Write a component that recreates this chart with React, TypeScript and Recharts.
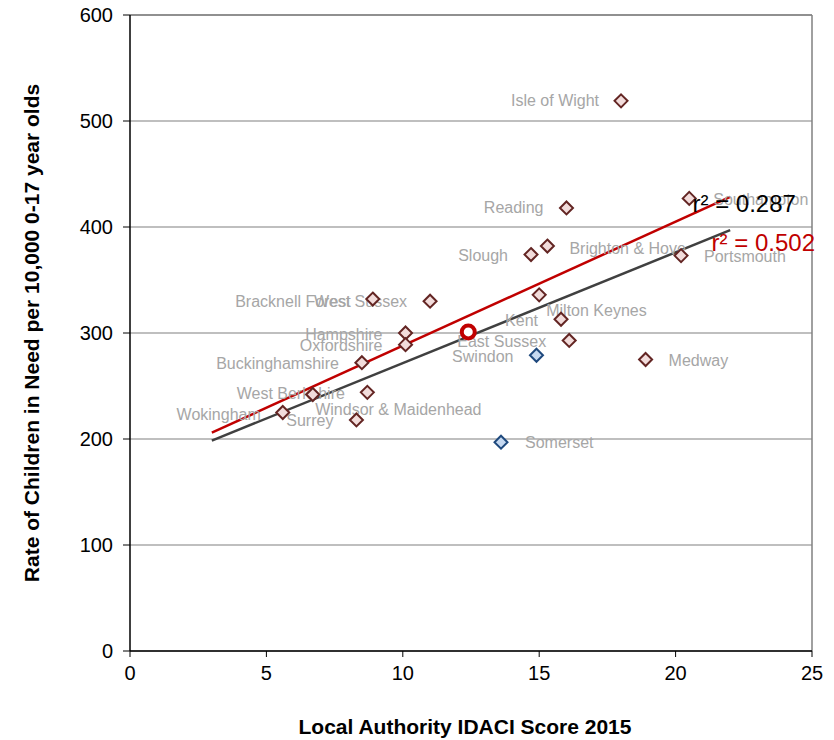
import React from "react";
import {
  ScatterChart,
  Scatter,
  XAxis,
  YAxis,
  CartesianGrid,
  ReferenceLine,
  ReferenceDot,
} from "recharts";

const FONT = "'Liberation Sans', Arial, sans-serif";

// local authorities (pink markers)
const authorities = [
  "Isle of Wight", "Southampton", "Reading", "Slough", "Brighton & Hove",
  "Portsmouth", "Medway", "East Sussex", "Kent", "Milton Keynes",
  "Bracknell Forest", "West Sussex", "Hampshire", "Oxfordshire",
  "Buckinghamshire", "West Berkshire", "Windsor & Maidenhead", "Wokingham", "Surrey",
];
const idaci = [18.0, 20.5, 16.0, 14.7, 15.3, 20.2, 18.9, 16.1, 15.8, 15.0, 8.9, 11.0, 10.1, 10.1, 8.5, 6.7, 8.7, 5.6, 8.3];
const cinRate = [519, 427, 418, 374, 382, 373, 275, 293, 313, 336, 332, 330, 300, 289, 272, 242, 244, 225, 218];

// highlighted authorities (blue markers)
const otherAuthorities = ["Swindon", "Somerset"];
const otherIdaci = [14.9, 13.6];
const otherCin = [279, 197];

// average marker
const averageIdaci = [12.4];
const averageCin = [301];

// trend lines (end points)
const trendAllX = [3, 22];
const trendAllY = [198.5, 397];
const trendSubX = [3, 22];
const trendSubY = [206, 428.5];

const xTicks = [0, 5, 10, 15, 20, 25];
const yTicks = [0, 100, 200, 300, 400, 500, 600];

// label offset from the marker: dx, dy, anchor
const labelPlacement: Record<string, [number, number, "start" | "end" | "middle"]> = {
  "Isle of Wight": [-22, 0, "end"],
  Southampton: [24, 1, "start"],
  Reading: [-23, 0, "end"],
  Slough: [-23, 1, "end"],
  "Brighton & Hove": [22, 2, "start"],
  Portsmouth: [23, 1, "start"],
  Medway: [23, 1, "start"],
  "East Sussex": [-23, 1, "end"],
  Kent: [-23, 1, "end"],
  "Milton Keynes": [7, 16, "start"],
  "Bracknell Forest": [-22, 2, "end"],
  "West Sussex": [-23, 0, "end"],
  Hampshire: [-23, 1, "end"],
  Oxfordshire: [-23, 1, "end"],
  Buckinghamshire: [-23, 1, "end"],
  "West Berkshire": [-22, -1, "middle"],
  "Windsor & Maidenhead": [31, 17, "middle"],
  Wokingham: [-22, 2, "end"],
  Surrey: [-23, 1, "end"],
  Swindon: [-23, 1, "end"],
  Somerset: [24, 0, "start"],
};

const mainData = authorities.map((name, i) => ({ name, x: idaci[i], y: cinRate[i] }));
const otherData = otherAuthorities.map((name, i) => ({ name, x: otherIdaci[i], y: otherCin[i] }));
const allLabels = [...mainData, ...otherData];
const avgData = averageIdaci.map((x, i) => ({ x, y: averageCin[i] }));
const trendAll = trendAllX.map((x, i) => ({ x, y: trendAllY[i] }));
const trendSub = trendSubX.map((x, i) => ({ x, y: trendSubY[i] }));

const NameLabel = (props: any) => {
  const { cx, cy, payload } = props;
  const [dx, dy, anchor] = labelPlacement[payload.name] ?? [23, 0, "start"];
  return (
    <text
      x={cx + dx}
      y={cy + dy}
      textAnchor={anchor}
      dominantBaseline="central"
      fontSize={16}
      fill="#a6a6a6"
      fontFamily={FONT}
    >
      {payload.name}
    </text>
  );
};

const diamond = (fill: string, stroke: string) => (props: any) => {
  const { cx, cy } = props;
  const h = 6.5;
  return (
    <polygon
      points={`${cx},${cy - h} ${cx + h},${cy} ${cx},${cy + h} ${cx - h},${cy}`}
      fill={fill}
      stroke={stroke}
      strokeWidth={2}
    />
  );
};

const AverageMarker = (props: any) => (
  <circle cx={props.cx} cy={props.cy} r={6.5} fill="#fff" stroke="#c00000" strokeWidth={4} />
);

const r2Text = (text: string, color: string) => (props: any) => (
  <text
    x={props.cx}
    y={props.cy}
    dominantBaseline="central"
    fontSize={24}
    fill={color}
    fontFamily={FONT}
  >
    {text}
  </text>
);

export default function App() {
  return (
    <div style={{ position: "absolute", left: 0, top: 0, width: 834, height: 740, background: "#fff" }}>
      <ScatterChart width={834} height={740} margin={{ top: 15, right: 22, bottom: 0, left: 0 }}>
        <CartesianGrid vertical={false} stroke="#bfbfbf" strokeWidth={2} />
        <XAxis
          type="number"
          dataKey="x"
          domain={[0, 25]}
          ticks={xTicks}
          height={89}
          tickSize={6}
          tickMargin={9}
          tick={{ fontSize: 20, fill: "#000", fontFamily: FONT }}
          axisLine={{ stroke: "#000", strokeWidth: 1.5 }}
          tickLine={{ stroke: "#000" }}
          label={{
            value: "Local Authority IDACI Score 2015",
            position: "insideBottom",
            offset: 6,
            dx: -6,
            fontSize: 21,
            fontWeight: "bold",
            fill: "#000",
            fontFamily: FONT,
          }}
        />
        <YAxis
          type="number"
          dataKey="y"
          domain={[0, 600]}
          ticks={yTicks}
          width={130}
          tickSize={7}
          tickMargin={10}
          tick={{ fontSize: 20, fill: "#000", fontFamily: FONT }}
          axisLine={{ stroke: "#000", strokeWidth: 1.5 }}
          tickLine={{ stroke: "#000" }}
          label={{
            value: "Rate of Children in Need per 10,000 0-17 year olds",
            position: "insideLeft",
            angle: -90,
            offset: 32,
            fontSize: 21,
            fontWeight: "bold",
            fill: "#000",
            fontFamily: FONT,
            style: { textAnchor: "middle" },
          }}
        />
        <ReferenceLine x={25} stroke="#808080" strokeWidth={1.5} />
        <ReferenceLine y={600} stroke="#808080" strokeWidth={1.5} />
        <Scatter
          data={trendAll}
          line={{ stroke: "#404040", strokeWidth: 2.5 }}
          shape={() => <g />}
          isAnimationActive={false}
        />
        <Scatter
          data={trendSub}
          line={{ stroke: "#c00000", strokeWidth: 2.5 }}
          shape={() => <g />}
          isAnimationActive={false}
        />
        <Scatter data={allLabels} shape={NameLabel} isAnimationActive={false} />
        <Scatter data={mainData} shape={diamond("#f2dcdb", "#632523")} isAnimationActive={false} />
        <Scatter data={otherData} shape={diamond("#c6d9f1", "#1f497d")} isAnimationActive={false} />
        <Scatter data={avgData} shape={AverageMarker} isAnimationActive={false} />
        <ReferenceDot x={20.62} y={422.6} r={0} shape={r2Text("r² = 0.287", "#000")} />
        <ReferenceDot x={21.32} y={385.8} r={0} shape={r2Text("r² = 0.502", "#c00000")} />
      </ScatterChart>
    </div>
  );
}
